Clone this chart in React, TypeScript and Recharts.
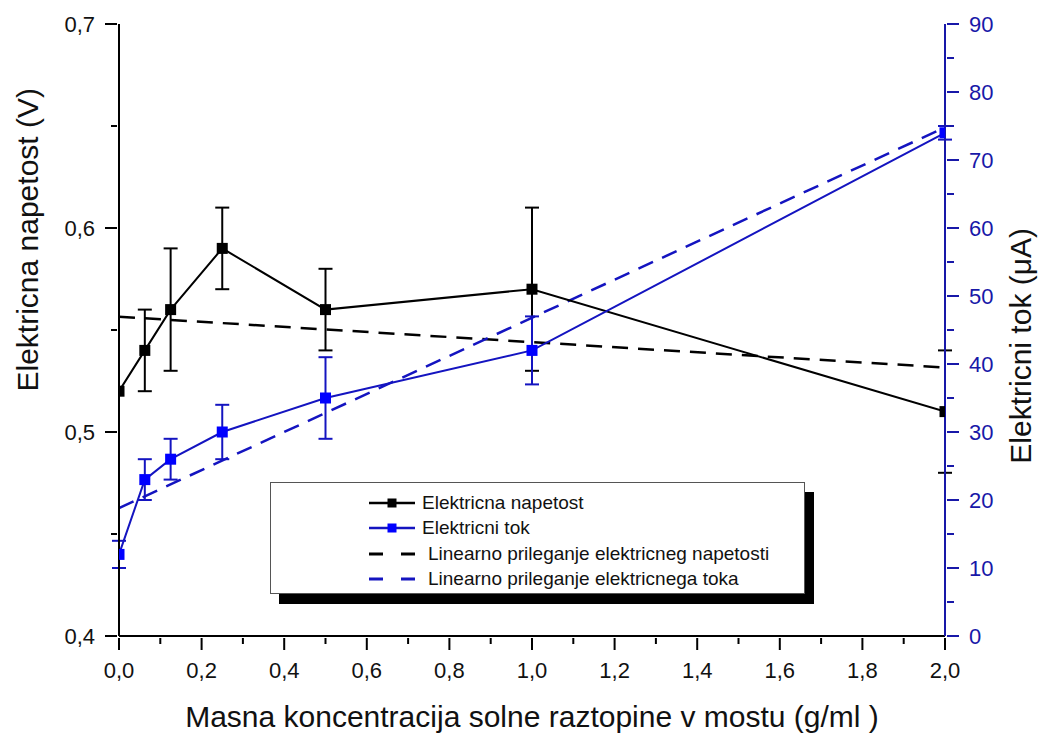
import React from "react";
import { ComposedChart, Line, XAxis, YAxis, ErrorBar, Legend } from "recharts";

// measured values
const concentration = [0, 0.0625, 0.125, 0.25, 0.5, 1.0, 2.0];
const voltage = [0.52, 0.54, 0.56, 0.59, 0.56, 0.57, 0.51];
const voltageErr = [null, 0.02, 0.03, 0.02, 0.02, 0.04, 0.03];
const current = [12, 23, 26, 30, 35, 42, 74];
const currentErr = [2, 3, 3, 4, 6, 5, 1];

// linear fits (end points)
const fitX = [0, 2];
const voltageFit = [0.5565, 0.5316];
const currentFit = [18.8, 74.8];

// ticks
const xTicks = [0, 0.1, 0.2, 0.3, 0.4, 0.5, 0.6, 0.7, 0.8, 0.9, 1.0, 1.1, 1.2, 1.3, 1.4, 1.5, 1.6, 1.7, 1.8, 1.9, 2.0];
const leftTicks = [0.4, 0.45, 0.5, 0.55, 0.6, 0.65, 0.7];
const rightTicks = [0, 5, 10, 15, 20, 25, 30, 35, 40, 45, 50, 55, 60, 65, 70, 75, 80, 85, 90];

const legendItems = [
  { label: "Elektricna napetost", color: "#000", marker: "#000", dashed: false },
  { label: "Elektricni tok", color: "#1414c0", marker: "#0000ff", dashed: false },
  { label: "Linearno prileganje elektricneg napetosti", color: "#000", dashed: true },
  { label: "Linearno prileganje elektricnega toka", color: "#1414c0", dashed: true },
];

const rows = concentration.map((c, i) => ({
  c,
  v: voltage[i],
  vErr: voltageErr[i],
  a: current[i],
  aErr: currentErr[i],
}));
const vFitRows = fitX.map((c, i) => ({ c, v: voltageFit[i] }));
const aFitRows = fitX.map((c, i) => ({ c, a: currentFit[i] }));

const W = 1041;
const H = 733;
const FONT = "'Liberation Sans', Arial, sans-serif";
const BLUE_AXIS = "#1818a8";
const BLUE_LINE = "#1414c0";

const comma = (v: number, d = 1) => v.toFixed(d).replace(".", ",");

function BottomTick(props: any) {
  const { x, y, payload } = props;
  const major = Math.round(payload.value * 10) % 2 === 0;
  return (
    <g>
      <line x1={x} x2={x} y1={y} y2={y + (major ? 12 : 6)} stroke="#000" strokeWidth={2} />
      {major && (
        <text x={x} y={y + 40} textAnchor="middle" fontSize={22} fontFamily={FONT} fill="#111">
          {comma(payload.value)}
        </text>
      )}
    </g>
  );
}

function TopTick(props: any) {
  const { x, y, payload } = props;
  const major = Math.round(payload.value * 10) % 2 === 0;
  return <line x1={x} x2={x} y1={y} y2={y + (major ? 10 : 6)} stroke="#000" strokeWidth={2} />;
}

function LeftTick(props: any) {
  const { x, y, payload } = props;
  const major = Math.round(payload.value * 100) % 10 === 0;
  return (
    <g>
      <line x1={x} x2={x - (major ? 12 : 6)} y1={y} y2={y} stroke="#000" strokeWidth={2} />
      {major && (
        <text x={x - 22} y={y} dy="0.36em" textAnchor="end" fontSize={22} fontFamily={FONT} fill="#111">
          {comma(payload.value)}
        </text>
      )}
    </g>
  );
}

function RightTick(props: any) {
  const { x, y, payload } = props;
  const major = payload.value % 10 === 0;
  return (
    <g>
      <line x1={x} x2={x + (major ? 12 : 7)} y1={y} y2={y} stroke={BLUE_AXIS} strokeWidth={2} />
      {major && (
        <text x={x + 22} y={y} dy="0.36em" textAnchor="start" fontSize={22} fontFamily={FONT} fill={BLUE_AXIS}>
          {payload.value}
        </text>
      )}
    </g>
  );
}

function AxisTitle({ kind }: { kind: "x" | "left" | "right" }) {
  const common = { fontSize: 30, fontFamily: FONT, fill: "#111" };
  if (kind === "x")
    return (
      <text x={532} y={727} textAnchor="middle" {...common}>
        Masna koncentracija solne raztopine v mostu (g/ml )
      </text>
    );
  if (kind === "left")
    return (
      <text x={38} y={88} textAnchor="end" transform="rotate(-90 38 88)" {...common}>
        Elektricna napetost (V)
      </text>
    );
  return (
    <text x={1031} y={228} textAnchor="end" transform="rotate(-90 1031 228)" {...common}>
      Elektricni tok (μA)
    </text>
  );
}

const squareDot = (fill: string, tag: string) => (p: any) =>
  <rect key={`${tag}-${p.index}`} x={p.cx - 5.5} y={p.cy - 5.5} width={11} height={11} fill={fill} />;

function LegendBox() {
  return (
    <div
      style={{
        width: 535, height: 112, boxSizing: "border-box",
        background: "#fff", border: "1px solid #555",
        boxShadow: "9px 10px 0 #000",
        fontFamily: FONT, fontSize: 19, color: "#111",
        position: "relative",
      }}
    >
      {legendItems.map((it, i) => (
        <div key={it.label} style={{ position: "absolute", left: 97, top: [20, 45, 71, 96][i] - 12, height: 24, display: "flex", alignItems: "center" }}>
          <svg width={48} height={24}>
            {it.dashed ? (
              <line x1={1} x2={47} y1={12} y2={12} stroke={it.color} strokeWidth={3} strokeDasharray="14 18" />
            ) : (
              <>
                <line x1={1} x2={47} y1={12} y2={12} stroke={it.color} strokeWidth={2.5} />
                <rect x={19.5} y={7.5} width={9} height={9} fill={it.marker} />
              </>
            )}
          </svg>
          <span style={{ marginLeft: it.dashed ? 12 : 6, whiteSpace: "nowrap" }}>{it.label}</span>
        </div>
      ))}
    </div>
  );
}

export default function App() {
  return (
    <div style={{ position: "absolute", left: 0, top: 0, width: W, height: H, background: "#fff" }}>
      <ComposedChart width={W} height={H} margin={{ top: 24, right: 36, bottom: 57, left: 59 }}>
        <XAxis
          xAxisId="bottom" dataKey="c" type="number" domain={[0, 2]} ticks={xTicks}
          allowDataOverflow interval={0} height={40} tickSize={0} tickLine={false}
          axisLine={{ stroke: "#000", strokeWidth: 2 }} tick={<BottomTick />}
          label={<AxisTitle kind="x" />}
        />
        <XAxis
          xAxisId="top" orientation="top" dataKey="c" type="number" domain={[0, 2]} ticks={xTicks}
          allowDataOverflow interval={0} height={0} tickSize={0} tickLine={false}
          axisLine={{ stroke: "#000", strokeWidth: 2 }} tick={<TopTick />}
        />
        <YAxis
          yAxisId="left" type="number" domain={[0.4, 0.7]} ticks={leftTicks} interval={0}
          allowDataOverflow width={60} tickSize={0} tickLine={false}
          axisLine={{ stroke: "#000", strokeWidth: 2 }} tick={<LeftTick />}
          label={<AxisTitle kind="left" />}
        />
        <YAxis
          yAxisId="right" orientation="right" type="number" domain={[0, 90]} ticks={rightTicks} interval={0}
          allowDataOverflow width={60} tickSize={0} tickLine={false}
          axisLine={{ stroke: BLUE_AXIS, strokeWidth: 2 }} tick={<RightTick />}
          label={<AxisTitle kind="right" />}
        />

        <Line
          data={vFitRows} xAxisId="bottom" yAxisId="left" dataKey="v" type="linear"
          stroke="#000" strokeWidth={2.5} strokeDasharray="16 10" dot={false} activeDot={false}
          isAnimationActive={false} legendType="none"
        />
        <Line
          data={aFitRows} xAxisId="bottom" yAxisId="right" dataKey="a" type="linear"
          stroke={BLUE_LINE} strokeWidth={2.5} strokeDasharray="16 10" dot={false} activeDot={false}
          isAnimationActive={false} legendType="none"
        />
        <Line
          data={rows} xAxisId="bottom" yAxisId="left" dataKey="v" type="linear"
          stroke="#000" strokeWidth={2} dot={squareDot("#000", "v")} activeDot={false}
          isAnimationActive={false}
        >
          <ErrorBar dataKey="vErr" direction="y" width={7} stroke="#000" strokeWidth={2} />
        </Line>
        <Line
          data={rows} xAxisId="bottom" yAxisId="right" dataKey="a" type="linear"
          stroke={BLUE_LINE} strokeWidth={2} dot={squareDot("#0000ff", "a")} activeDot={false}
          isAnimationActive={false}
        >
          <ErrorBar dataKey="aErr" direction="y" width={7} stroke={BLUE_LINE} strokeWidth={2} />
        </Line>

        <Legend
          layout="horizontal" verticalAlign="middle" align="center"
          wrapperStyle={{ left: 270, top: 482, width: 535, height: 112 }}
          content={() => <LegendBox />}
        />
      </ComposedChart>
    </div>
  );
}
